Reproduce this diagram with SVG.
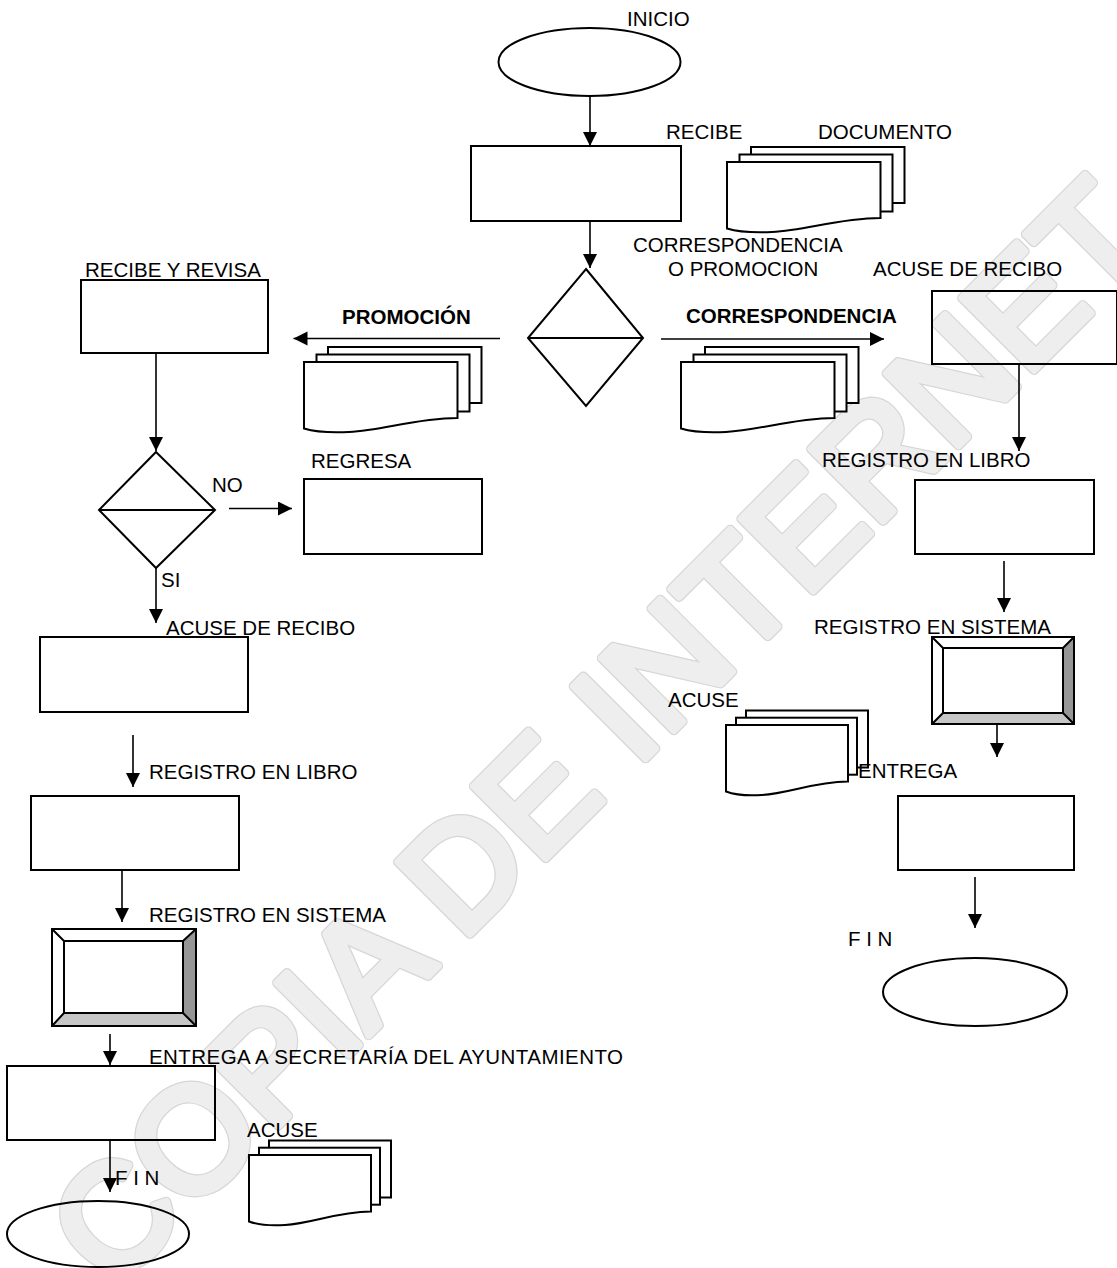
<svg xmlns="http://www.w3.org/2000/svg" xmlns:xlink="http://www.w3.org/1999/xlink" width="1117" height="1268" viewBox="0 0 1117 1268">
<style>
.t{font-family:"Liberation Sans",Arial,sans-serif;font-size:20.5px;fill:#000}
.b{font-weight:bold}
.s{fill:none;stroke:#000;stroke-width:2}
.doc rect,.doc path{fill:#fff;stroke:#000;stroke-width:2}
.c{fill:none;stroke:#000;stroke-width:1.6;marker-end:url(#ah)}
.wm1{font-family:"Liberation Sans",Arial,sans-serif;font-size:148px;fill:#d6d6d6;stroke:#d6d6d6;stroke-width:10;stroke-linejoin:round;stroke-linecap:round}
.wm2{font-family:"Liberation Sans",Arial,sans-serif;font-size:148px;fill:#eeeeee;stroke:#eeeeee;stroke-width:7.5;stroke-linejoin:round;stroke-linecap:round}
</style>
<defs>
<marker id="ah" markerUnits="userSpaceOnUse" markerWidth="15" markerHeight="15" refX="14" refY="7" orient="auto">
<path d="M0,0 L14,7 L0,14 Z" fill="#000"/>
</marker>
<g id="stackW" class="doc">
<rect x="24" y="-15" width="153.5" height="56"/>
<rect x="12.5" y="-7.5" width="153" height="57"/>
<path d="M0,0 H153.5 V56 C110,56.5 80,68 45,70 C25,71 10,69.5 0,66.5 Z"/>
</g>
<g id="stackN" class="doc">
<rect x="20" y="-14.5" width="122" height="57"/>
<rect x="10" y="-7.3" width="121" height="57"/>
<path d="M0,0 H122 V56.5 C87,57 64,68 36,70 C20,71 8,69.5 0,66.5 Z"/>
</g>
</defs>
<rect x="0" y="0" width="1117" height="1268" fill="#fff"/>
<g id="watermark" transform="rotate(-45 636 768)">
<text class="wm1" x="636" y="768" text-anchor="middle">COPIA DE INTERNET</text>
<text class="wm2" x="636" y="768" text-anchor="middle">COPIA DE INTERNET</text>
</g>
<g id="connectors">
<line class="c" x1="590" y1="96" x2="590" y2="146"/>
<line class="c" x1="590" y1="221" x2="590" y2="268"/>
<line class="c" x1="500" y1="338.5" x2="293.5" y2="338.5"/>
<line class="c" x1="661" y1="339" x2="884" y2="339"/>
<line class="c" x1="156" y1="353" x2="156" y2="451"/>
<line class="c" x1="229" y1="508.5" x2="292" y2="508.5"/>
<line class="c" x1="156" y1="568" x2="156" y2="623"/>
<line class="c" x1="133" y1="735" x2="133" y2="787"/>
<line class="c" x1="122" y1="870" x2="122" y2="922"/>
<line class="c" x1="110" y1="1034" x2="110" y2="1065"/>
<line class="c" x1="110" y1="1140" x2="110" y2="1192"/>
<line class="c" x1="1019" y1="364" x2="1019" y2="451"/>
<line class="c" x1="1004" y1="561" x2="1004" y2="612"/>
<line class="c" x1="997" y1="724" x2="997" y2="757"/>
<line class="c" x1="975" y1="877" x2="975" y2="928"/>
</g>
<g id="inicio"><ellipse class="s" cx="589.5" cy="62" rx="91" ry="34"/><text class="t" x="627" y="26">INICIO</text></g>
<g id="recibe"><rect class="s" x="471" y="146" width="210" height="75"/><text class="t" x="666" y="139">RECIBE</text></g>
<g id="documento"><use xlink:href="#stackW" x="727" y="162"/><text class="t" x="818" y="139">DOCUMENTO</text></g>
<g id="decision1"><path class="s" d="M586,269 L643,338 L586,406 L528,338 Z M528,338 H643"/><text class="t" x="633" y="252">CORRESPONDENCIA</text><text class="t" x="668" y="276">O PROMOCION</text></g>
<g id="promocion-docs"><use xlink:href="#stackW" x="304" y="362"/><text class="t b" x="342" y="324">PROMOCIÓN</text></g>
<g id="correspondencia-docs"><use xlink:href="#stackW" x="681" y="362"/><text class="t b" x="686" y="323">CORRESPONDENCIA</text></g>
<g id="acuse-recibo-r"><rect class="s" x="932" y="291" width="185" height="73"/><text class="t" x="873" y="276">ACUSE DE RECIBO</text></g>
<g id="registro-libro-r"><rect class="s" x="915" y="480" width="179" height="74"/><text class="t" x="822" y="467">REGISTRO EN LIBRO</text></g>
<g id="registro-sistema-r">
<polygon points="932,637 1074,637 1063,648 943,648" fill="#fff"/>
<polygon points="932,637 943,648 943,713 932,724" fill="#fff"/>
<polygon points="1074,637 1074,724 1063,713 1063,648" fill="#969696"/>
<polygon points="932,724 1074,724 1063,713 943,713" fill="#c6c6c6"/>
<path class="s" d="M932,637 L943,648 M1074,637 L1063,648 M932,724 L943,713 M1074,724 L1063,713"/>
<rect class="s" x="932" y="637" width="142" height="87"/>
<rect class="s" x="943" y="648" width="120" height="65"/>
<text class="t" x="814" y="634">REGISTRO EN SISTEMA</text></g>
<g id="acuse-r"><use xlink:href="#stackN" x="726" y="725"/><text class="t" x="668" y="707">ACUSE</text></g>
<g id="entrega-r"><rect class="s" x="898" y="796" width="176" height="74"/><text class="t" x="858" y="778">ENTREGA</text></g>
<g id="fin-r"><ellipse class="s" cx="975" cy="992" rx="92" ry="34"/><text class="t" x="848" y="946">F I N</text></g>
<g id="recibe-revisa"><rect class="s" x="81" y="280" width="187" height="73"/><text class="t" x="85" y="277">RECIBE Y REVISA</text></g>
<g id="decision2"><path class="s" d="M156,452 L215,510 L156,568 L99,510 Z M99,510 H215"/><text class="t" x="212" y="492">NO</text><text class="t" x="161" y="587">SI</text></g>
<g id="regresa"><rect class="s" x="304" y="479" width="178" height="75"/><text class="t" x="311" y="468">REGRESA</text></g>
<g id="acuse-recibo-l"><rect class="s" x="40" y="637" width="208" height="75"/><text class="t" x="166" y="635">ACUSE DE RECIBO</text></g>
<g id="registro-libro-l"><rect class="s" x="31" y="796" width="208" height="74"/><text class="t" x="149" y="779">REGISTRO EN LIBRO</text></g>
<g id="registro-sistema-l">
<polygon points="52,929 196,929 183,941 64,941" fill="#fff"/>
<polygon points="52,929 64,941 64,1013 52,1026" fill="#fff"/>
<polygon points="196,929 196,1026 183,1013 183,941" fill="#969696"/>
<polygon points="52,1026 196,1026 183,1013 64,1013" fill="#c6c6c6"/>
<path class="s" d="M52,929 L64,941 M196,929 L183,941 M52,1026 L64,1013 M196,1026 L183,1013"/>
<rect class="s" x="52" y="929" width="144" height="97"/>
<rect class="s" x="64" y="941" width="119" height="72"/>
<text class="t" x="149" y="922">REGISTRO EN SISTEMA</text></g>
<g id="entrega-l"><rect class="s" x="7" y="1066" width="208" height="74"/><text class="t" x="149" y="1064" textLength="474" lengthAdjust="spacing">ENTREGA A SECRETARÍA DEL AYUNTAMIENTO</text></g>
<g id="acuse-l"><use xlink:href="#stackN" x="249" y="1155"/><text class="t" x="247" y="1137">ACUSE</text></g>
<g id="fin-l"><ellipse class="s" cx="98" cy="1234" rx="91" ry="33"/><text class="t" x="115" y="1185">F I N</text></g>
</svg>
